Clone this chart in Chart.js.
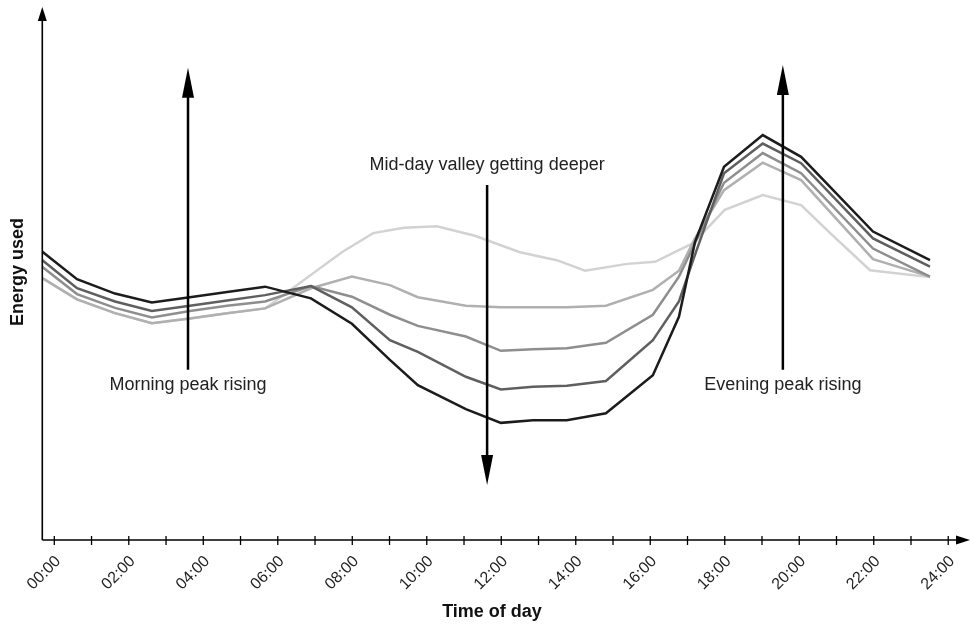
<!DOCTYPE html>
<html><head><meta charset="utf-8">
<script src="https://cdn.jsdelivr.net/npm/chart.js@4.4.1/dist/chart.umd.min.js"></script>
<style>html,body{margin:0;padding:0;background:#fff}</style>
</head><body>
<canvas id="c" width="970" height="625"></canvas>
<script>
// ---- data (hour of day, arbitrary energy units) ----
const hoursMain = [-0.32, 0.61, 1.63, 2.62, 3.64, 4.64, 5.66, 6.89, 7.99, 9.01, 9.76, 11.05, 11.99, 12.85, 13.76, 14.81, 16.07, 16.77, 17.20, 17.98, 19.02, 20.05, 21.98, 23.51];
const hoursLightest = [-0.32, 0.61, 1.63, 2.62, 3.64, 4.64, 5.66, 7.72, 8.56, 9.39, 10.27, 11.29, 12.50, 13.49, 14.25, 15.38, 16.13, 17.15, 18.00, 19.02, 20.05, 20.83, 21.90, 23.51];

const energyYear5 = [54.4, 49.2, 46.5, 44.8, 45.8, 46.8, 47.8, 45.6, 40.8, 34.0, 29.2, 24.7, 22.1, 22.6, 22.6, 23.9, 31.1, 42.1, 56.2, 70.4, 76.4, 72.3, 58.2, 52.8];
const energyYear4 = [52.8, 47.5, 45.0, 43.2, 44.2, 45.2, 46.2, 47.9, 43.9, 37.7, 35.5, 30.8, 28.4, 28.9, 29.1, 30.0, 37.7, 45.0, 53.8, 69.2, 74.8, 71.1, 56.9, 51.6];
const energyYear3 = [51.5, 46.4, 43.8, 42.0, 43.2, 44.2, 45.0, 47.9, 45.9, 42.5, 40.4, 38.4, 35.7, 36.0, 36.2, 37.2, 42.5, 49.7, 56.0, 67.4, 73.0, 69.2, 55.0, 49.7];
const energyYear2 = [49.4, 45.4, 42.8, 40.9, 41.8, 42.8, 43.7, 47.5, 49.7, 48.1, 45.8, 44.2, 43.9, 43.9, 43.9, 44.2, 47.2, 50.8, 56.9, 66.0, 71.2, 67.9, 53.0, 49.7];
const energyYear1 = [49.4, 45.4, 42.8, 40.9, 41.8, 42.8, 43.7, 54.3, 57.9, 58.9, 59.2, 57.4, 54.3, 52.8, 50.8, 52.1, 52.5, 56.0, 62.3, 65.1, 63.2, 57.9, 50.9, 49.6];

const tickHours = [0,1,2,3,4,5,6,7,8,9,10,11,12,13,14,15,16,17,18,19,20,21,22,23,24];
const tickLabels = ['00:00','02:00','04:00','06:00','08:00','10:00','12:00','14:00','16:00','18:00','20:00','22:00','24:00'];

const xTitle = 'Time of day';
const yTitle = 'Energy used';
const notes = [
  {text: 'Morning peak rising', hour: 3.59, from: 32.1, to: 89.1, textY: 29.2},
  {text: 'Mid-day valley getting deeper', hour: 11.62, from: 67.0, to: 10.4, textY: 70.8},
  {text: 'Evening peak rising', hour: 19.56, from: 32.1, to: 89.6, textY: 29.2}
];

const FONT = "'Liberation Sans', Arial, Helvetica, sans-serif";

function pts(xs, ys) { return xs.map((h, i) => ({x: h, y: ys[i]})); }
function ds(label, xs, ys, color) {
  return {label, data: pts(xs, ys), borderColor: color, backgroundColor: color,
          borderWidth: 2.5, pointRadius: 0, tension: 0, clip: false, borderJoinStyle: 'miter'};
}

function arrowHead(ctx, x, y, dir, w, len) {
  ctx.beginPath();
  if (dir === 'up') { ctx.moveTo(x, y); ctx.lineTo(x - w/2, y + len); ctx.lineTo(x + w/2, y + len); }
  else if (dir === 'down') { ctx.moveTo(x, y); ctx.lineTo(x - w/2, y - len); ctx.lineTo(x + w/2, y - len); }
  else { ctx.moveTo(x, y); ctx.lineTo(x - len, y - w/2); ctx.lineTo(x - len, y + w/2); }
  ctx.closePath(); ctx.fill();
}

const decor = {
  id: 'decor',
  afterDraw(chart) {
    const ctx = chart.ctx, xs = chart.scales.x, ys = chart.scales.y, ca = chart.chartArea;
    ctx.save();
    ctx.strokeStyle = '#000'; ctx.fillStyle = '#000';
    const ax = ca.left, ay = ca.bottom;
    ctx.lineWidth = 1.6;
    ctx.beginPath(); ctx.moveTo(ax, ay); ctx.lineTo(ax, 18); ctx.stroke();
    arrowHead(ctx, ax, 7, 'up', 9, 14);
    ctx.beginPath(); ctx.moveTo(ax, ay); ctx.lineTo(958, ay); ctx.stroke();
    arrowHead(ctx, 970, ay, 'right', 9, 14);
    ctx.lineWidth = 1.3;
    tickHours.forEach(h => {
      const px = xs.getPixelForValue(h);
      ctx.beginPath(); ctx.moveTo(px, ay - 4); ctx.lineTo(px, ay + 5); ctx.stroke();
    });
    notes.forEach(n => {
      const px = xs.getPixelForValue(n.hour);
      const y0 = ys.getPixelForValue(n.from), y1 = ys.getPixelForValue(n.to);
      const up = y1 < y0;
      ctx.lineWidth = 2.5;
      ctx.beginPath(); ctx.moveTo(px, y0); ctx.lineTo(px, up ? y1 + 20 : y1 - 20); ctx.stroke();
      arrowHead(ctx, px, y1, up ? 'up' : 'down', 12, 30);
      ctx.font = '18px ' + FONT; ctx.fillStyle = '#222';
      ctx.textAlign = 'center'; ctx.textBaseline = 'middle';
      ctx.fillText(n.text, px, ys.getPixelForValue(n.textY));
      ctx.fillStyle = '#000';
    });
    ctx.fillStyle = '#111';
    ctx.font = 'bold 18px ' + FONT;
    ctx.textAlign = 'center'; ctx.textBaseline = 'middle';
    ctx.fillText(xTitle, 492, 612);
    ctx.save(); ctx.translate(18, 272); ctx.rotate(-Math.PI/2);
    ctx.fillText(yTitle, 0, 0); ctx.restore();
    ctx.restore();
  }
};

new Chart(document.getElementById('c'), {
  type: 'line',
  data: {datasets: [
    ds('Year 5', hoursMain, energyYear5, '#1c1c1c'),
    ds('Year 4', hoursMain, energyYear4, '#5f5f5f'),
    ds('Year 3', hoursMain, energyYear3, '#8e8e8e'),
    ds('Year 2', hoursMain, energyYear2, '#b0b0b0'),
    ds('Year 1', hoursLightest, energyYear1, '#d2d2d2')
  ]},
  options: {
    responsive: false, animation: false, devicePixelRatio: 1,
    layout: {padding: {left: 42.3, top: 10, right: 5, bottom: 0}},
    plugins: {legend: {display: false}, tooltip: {enabled: false}},
    scales: {
      x: {
        type: 'linear', min: -0.322, max: 24.45,
        afterBuildTicks: s => { s.ticks = tickHours.map(v => ({value: v})); },
        afterFit: s => { s.height = 85; s.paddingLeft = 0; s.paddingRight = 0; },
        grid: {display: false, drawTicks: false},
        border: {display: false},
        ticks: {
          autoSkip: false, minRotation: 45, maxRotation: 45, padding: 12, labelOffset: 4,
          color: '#222', font: {family: FONT, size: 16},
          callback: (v, i) => (i % 2 === 0 ? tickLabels[i / 2] : '')
        }
      },
      y: {display: false, min: 0, max: 100}
    }
  },
  plugins: [decor]
});
</script>
</body></html>
